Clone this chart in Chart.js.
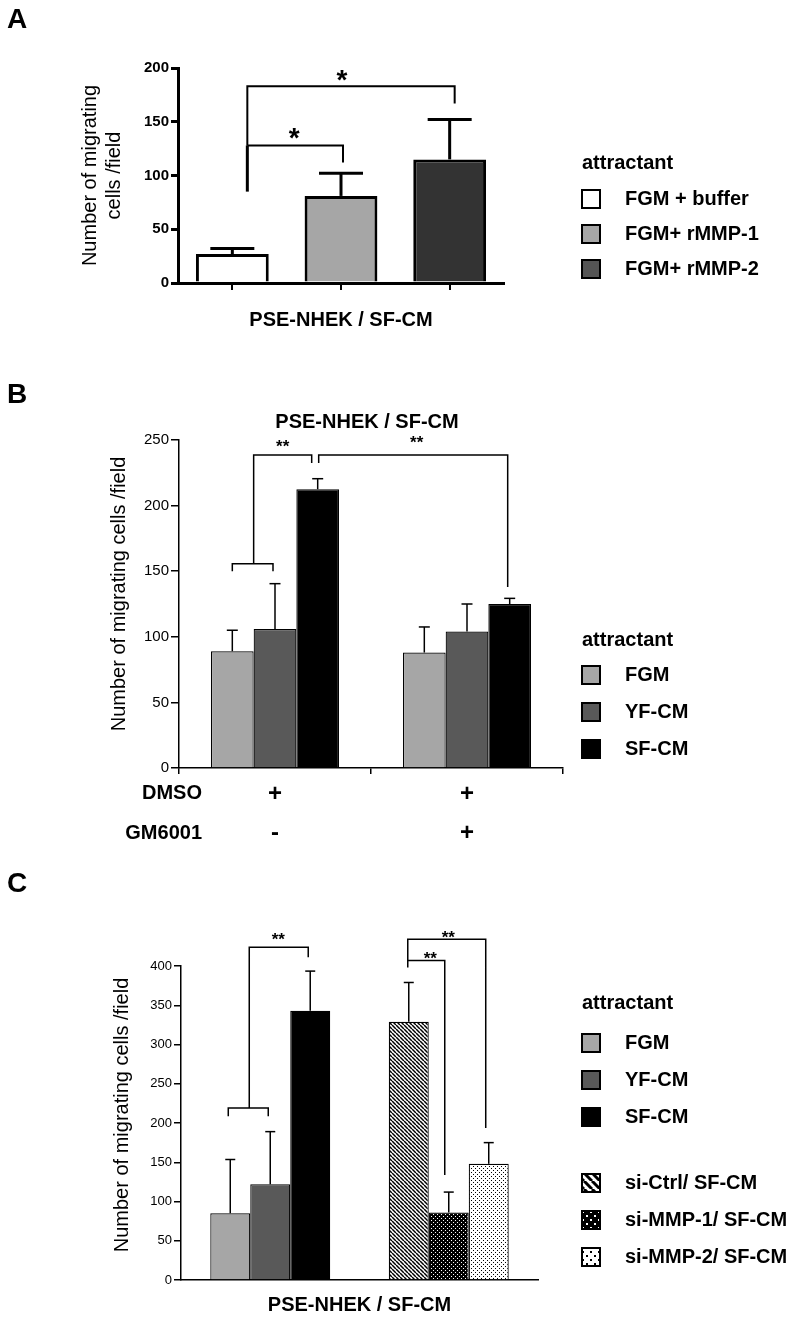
<!DOCTYPE html>
<html>
<head>
<meta charset="utf-8">
<script src="https://cdn.jsdelivr.net/npm/chart.js@4.4.0/dist/chart.umd.min.js"></script>
<style>
  html, body { margin: 0; padding: 0; background: #fff; }
  body { width: 797px; height: 1318px; position: relative; overflow: hidden; }
  canvas { position: absolute; left: 0; }
</style>
</head>
<body>
<canvas id="chartA" width="797" height="345" style="top:0px"></canvas>
<canvas id="chartB" width="797" height="500" style="top:345px"></canvas>
<canvas id="chartC" width="797" height="473" style="top:845px"></canvas>
<script>
const FONT = 'Arial, "Liberation Sans", sans-serif';

// panel A: recombinant MMPs as attractant
const seriesA = ['FGM + buffer', 'FGM+ rMMP-1', 'FGM+ rMMP-2'];
const meanA = [27, 81, 115];
const sdA = [5, 21, 37];
const colorsA = ['#ffffff', '#a6a6a6', '#333333'];

// panel B: MMP inhibitor GM6001
const groupsB = ['DMSO', 'DMSO + GM6001'];
const seriesB = ['FGM', 'YF-CM', 'SF-CM'];
const fgmB = [89, 88];
const yfB = [106, 104];
const sfB = [212.5, 125];
const fgmSdB = [16, 19.5];
const yfSdB = [34.5, 21];
const sfSdB = [8, 4.3];
const dmsoRow = ['+', '+'];
const gmRow = ['-', '+'];

// panel C: conditioned media and siRNA knockdown
const groupsC = ['conditioned medium', 'siRNA'];
const seriesC = ['FGM', 'YF-CM', 'SF-CM', 'si-Ctrl/ SF-CM', 'si-MMP-1/ SF-CM', 'si-MMP-2/ SF-CM'];
const meanC = [85, 122, 343, 329, 86, 148];
const sdC = [68.5, 67, 50.5, 50, 26, 27];

const GREY_LIGHT = '#a6a6a6', GREY_DARK = '#595959';

function makePattern(kind, s) {
  const n = 4 * s;
  const c = document.createElement('canvas');
  c.width = n; c.height = n;
  const g = c.getContext('2d');
  if (kind === 'hatch') {
    g.fillStyle = '#fff'; g.fillRect(0, 0, n, n);
    g.strokeStyle = '#000'; g.lineWidth = 1.5 * s;
    for (const o of [-n, 0, n]) {
      g.beginPath(); g.moveTo(o, 0); g.lineTo(o + n, n); g.stroke();
    }
  } else if (kind === 'dotsWhite') {
    g.fillStyle = '#000'; g.fillRect(0, 0, n, n);
    g.fillStyle = '#fff';
    g.fillRect(s, s, s, s); g.fillRect(3 * s, 3 * s, s, s);
  } else {
    g.fillStyle = '#fff'; g.fillRect(0, 0, n, n);
    g.fillStyle = '#000';
    g.fillRect(s, s, s, s); g.fillRect(3 * s, 3 * s, s, s);
  }
  return g.createPattern(c, 'repeat');
}

function text(ctx, str, x, y, size, bold, align) {
  ctx.save();
  ctx.font = (bold ? 'bold ' : '') + size + 'px ' + FONT;
  ctx.fillStyle = '#000';
  ctx.textAlign = align || 'center';
  ctx.textBaseline = 'middle';
  ctx.fillText(str, x, y);
  ctx.restore();
}

function stars(ctx, str, x, y, size) {
  // y is the visual centre of the asterisks
  ctx.save();
  ctx.font = 'bold ' + size + 'px ' + FONT;
  ctx.fillStyle = '#000';
  ctx.textAlign = 'center';
  ctx.textBaseline = 'alphabetic';
  ctx.fillText(str, x, y + size * 0.58);
  ctx.restore();
}

function path(ctx, pts, w) {
  ctx.save();
  ctx.strokeStyle = '#000';
  ctx.lineWidth = w;
  ctx.lineJoin = 'miter';
  ctx.beginPath();
  pts.forEach((p, i) => i ? ctx.lineTo(p[0], p[1]) : ctx.moveTo(p[0], p[1]));
  ctx.stroke();
  ctx.restore();
}

function errorBars(chart, sds, w, cap) {
  const ctx = chart.ctx, y = chart.scales.y;
  chart.data.datasets.forEach((ds, di) => {
    chart.getDatasetMeta(di).data.forEach((bar, i) => {
      const top = y.getPixelForValue(ds.data[i] + sds[di][i]);
      path(ctx, [[bar.x, bar.y], [bar.x, top]], w);
      path(ctx, [[bar.x - cap / 2, top], [bar.x + cap / 2, top]], w);
    });
  });
}

function legend(ctx, x, titleY, items, border) {
  text(ctx, 'attractant', x, titleY, 20, true, 'left');
  items.forEach(it => {
    ctx.save();
    ctx.fillStyle = it.fill;
    ctx.fillRect(x, it.y - 9, 18, 18);
    ctx.strokeStyle = '#000';
    ctx.lineWidth = border;
    ctx.strokeRect(x, it.y - 9, 18, 18);
    ctx.restore();
    text(ctx, it.label, x + 43, it.y, 20, true, 'left');
  });
}

function baseOptions(box, yMax, tickFont, axisW, tickLen, xGrid) {
  return {
    responsive: false,
    animation: false,
    events: [],
    layout: { padding: { top: box.top, right: box.right, left: 0, bottom: 0 } },
    plugins: { legend: { display: false }, tooltip: { enabled: false }, title: { display: false } },
    scales: {
      x: {
        border: { color: '#000', width: axisW },
        grid: xGrid,
        ticks: { display: false },
        afterFit: s => { s.height = box.xh; }
      },
      y: {
        min: 0, max: yMax,
        border: { color: '#000', width: axisW },
        grid: { drawOnChartArea: false, drawTicks: true, tickLength: tickLen, color: '#000', lineWidth: axisW },
        ticks: { stepSize: 50, color: '#000', font: tickFont, padding: 2 },
        afterFit: s => { s.width = box.left; }
      }
    }
  };
}

// ---------------- Panel A ----------------
const optsA = baseOptions({ top: 68, right: 293, xh: 62, left: 178 }, 200,
  { family: FONT, size: 15, weight: 'bold' }, 3, 7,
  { offset: false, drawOnChartArea: false, drawTicks: true, tickLength: 7, color: '#000', lineWidth: 2 });

new Chart(document.getElementById('chartA'), {
  type: 'bar',
  data: {
    labels: seriesA,
    datasets: [{
      data: meanA,
      backgroundColor: colorsA,
      borderColor: '#000',
      borderWidth: 3,
      barPercentage: 0.67,
      categoryPercentage: 1
    }]
  },
  options: optsA,
  plugins: [{
    id: 'annotA',
    afterDatasetsDraw(chart) {
      const ctx = chart.ctx, Y = v => chart.scales.y.getPixelForValue(v);
      errorBars(chart, [sdA], 3, 44);
      const bx = i => chart.getDatasetMeta(0).data[i].x;
      const xl = bx(0) + 15;
      path(ctx, [[xl, Y(85)], [xl, Y(128)]], 3);
      path(ctx, [[xl, Y(128)], [xl, Y(183)], [bx(2) + 5, Y(183)], [bx(2) + 5, Y(167)]], 2);
      path(ctx, [[xl, Y(128)], [bx(1) + 2, Y(128)], [bx(1) + 2, Y(112)]], 2);
      stars(ctx, '*', (xl + bx(1)) / 2, Y(128) - 15, 28);
      stars(ctx, '*', bx(1) + 1, Y(183) - 14, 28);
    },
    afterDraw(chart) {
      const ctx = chart.ctx, a = chart.chartArea;
      text(ctx, 'A', 7, 20, 28, true, 'left');
      ctx.save();
      ctx.translate(102, (a.top + a.bottom) / 2);
      ctx.rotate(-Math.PI / 2);
      text(ctx, 'Number of migrating', 0, -12, 20, false);
      text(ctx, 'cells /field', 0, 12, 20, false);
      ctx.restore();
      text(ctx, 'PSE-NHEK / SF-CM', (a.left + a.right) / 2, 320, 20, true);
      legend(ctx, 582, 163, seriesA.map((s, i) => ({ label: s, fill: i === 2 ? '#555555' : colorsA[i], y: 199 + 35 * i })), 2);
    }
  }]
});

// ---------------- Panel B ----------------
const optsB = baseOptions({ top: 95, right: 234, xh: 77, left: 179 }, 250,
  { family: FONT, size: 15 }, 1.5, 8,
  { offset: true, drawOnChartArea: false, drawTicks: true, tickLength: 6, color: '#000', lineWidth: 1.5 });

const barB = (label, data, color) => ({
  label, data, backgroundColor: color, borderColor: '#000', borderWidth: 1.2,
  barPercentage: 1, categoryPercentage: 0.667
});

new Chart(document.getElementById('chartB'), {
  type: 'bar',
  data: {
    labels: groupsB,
    datasets: [
      barB(seriesB[0], fgmB, GREY_LIGHT),
      barB(seriesB[1], yfB, GREY_DARK),
      barB(seriesB[2], sfB, '#000000')
    ]
  },
  options: optsB,
  plugins: [{
    id: 'annotB',
    afterDatasetsDraw(chart) {
      const ctx = chart.ctx, Y = v => chart.scales.y.getPixelForValue(v);
      errorBars(chart, [fgmSdB, yfSdB, sfSdB], 1.5, 11);
      const bx = (d, i) => chart.getDatasetMeta(d).data[i].x;
      const mid = (bx(0, 0) + bx(1, 0)) / 2;
      path(ctx, [[bx(0, 0), Y(150)], [bx(0, 0), Y(155.6)], [bx(1, 0) - 2, Y(155.6)], [bx(1, 0) - 2, Y(150)]], 1.5);
      path(ctx, [[mid, Y(155.6)], [mid, Y(238.6)], [bx(2, 0) - 6, Y(238.6)], [bx(2, 0) - 6, Y(232.5)]], 1.5);
      path(ctx, [[bx(2, 0) + 1, Y(232.5)], [bx(2, 0) + 1, Y(238.6)], [bx(2, 1) - 2, Y(238.6)], [bx(2, 1) - 2, Y(138)]], 1.5);
      stars(ctx, '**', (mid + bx(2, 0) - 6) / 2, Y(238.6) - 13, 17);
      stars(ctx, '**', (bx(2, 0) + bx(2, 1)) / 2 + 3, Y(238.6) - 17, 17);
    },
    afterDraw(chart) {
      const ctx = chart.ctx, a = chart.chartArea, x = chart.scales.x;
      text(ctx, 'B', 7, 50, 28, true, 'left');
      ctx.save();
      ctx.translate(119, 249);
      ctx.rotate(-Math.PI / 2);
      text(ctx, 'Number of migrating cells /field', 0, 0, 20, false);
      ctx.restore();
      text(ctx, 'PSE-NHEK / SF-CM', (a.left + a.right) / 2 - 4, 77, 20, true);
      text(ctx, 'DMSO', 202, 448, 20, true, 'right');
      text(ctx, 'GM6001', 202, 488, 20, true, 'right');
      dmsoRow.forEach((s, i) => text(ctx, s, x.getPixelForValue(i), 449, 24, true));
      gmRow.forEach((s, i) => text(ctx, s, x.getPixelForValue(i), 488, 24, true));
      legend(ctx, 582, 295, seriesB.map((s, i) => ({ label: s, fill: [GREY_LIGHT, GREY_DARK, '#000'][i], y: 330 + 37 * i })), 2);
    }
  }]
});

// ---------------- Panel C ----------------
const hatch = makePattern('hatch', 1), dotsW = makePattern('dotsWhite', 1), dotsB = makePattern('dotsBlack', 1);
const fillsC = [GREY_LIGHT, GREY_DARK, '#000000', hatch, dotsW, dotsB];
const legendFillsC = [GREY_LIGHT, GREY_DARK, '#000000', makePattern('hatch', 2), makePattern('dotsWhite', 2), makePattern('dotsBlack', 2)];

const optsC = baseOptions({ top: 121, right: 259, xh: 38, left: 181 }, 400,
  { family: FONT, size: 13 }, 1.5, 7,
  { offset: true, drawOnChartArea: false, drawTicks: false });

const sdSlotC = [0, 1, 2].map(k => [sdC[k], sdC[k + 3]]);

new Chart(document.getElementById('chartC'), {
  type: 'bar',
  data: {
    labels: groupsC,
    datasets: [0, 1, 2].map(k => ({
      label: seriesC[k] + ' / ' + seriesC[k + 3],
      data: [meanC[k], meanC[k + 3]],
      backgroundColor: [fillsC[k], fillsC[k + 3]],
      borderColor: '#000',
      borderWidth: 1.2,
      barPercentage: 1,
      categoryPercentage: 0.672
    }))
  },
  options: optsC,
  plugins: [{
    id: 'annotC',
    afterDatasetsDraw(chart) {
      const ctx = chart.ctx, Y = v => chart.scales.y.getPixelForValue(v);
      errorBars(chart, sdSlotC, 1.5, 10);
      const bx = (d, i) => chart.getDatasetMeta(d).data[i].x;
      const mid = (bx(0, 0) + bx(1, 0)) / 2;
      path(ctx, [[bx(0, 0) - 2, Y(208.6)], [bx(0, 0) - 2, Y(219)], [bx(1, 0) - 2, Y(219)], [bx(1, 0) - 2, Y(208.6)]], 1.5);
      path(ctx, [[mid - 1, Y(219)], [mid - 1, Y(424)], [bx(2, 0) - 2, Y(424)], [bx(2, 0) - 2, Y(411)]], 1.5);
      stars(ctx, '**', (mid + bx(2, 0)) / 2 - 2, Y(424) - 12, 17);
      const xl = bx(0, 1) - 1;
      path(ctx, [[xl, Y(398)], [xl, Y(434)], [bx(2, 1) - 3, Y(434)], [bx(2, 1) - 3, Y(193.5)]], 1.5);
      path(ctx, [[xl, Y(407)], [bx(1, 1) - 4, Y(407)], [bx(1, 1) - 4, Y(133.6)]], 1.5);
      stars(ctx, '**', (xl + bx(2, 1)) / 2, Y(434) - 6, 17);
      stars(ctx, '**', (xl + bx(1, 1)) / 2 + 2, Y(407) - 6, 17);
    },
    afterDraw(chart) {
      const ctx = chart.ctx, a = chart.chartArea;
      text(ctx, 'C', 7, 39, 28, true, 'left');
      ctx.save();
      ctx.translate(122, 270);
      ctx.rotate(-Math.PI / 2);
      text(ctx, 'Number of migrating cells /field', 0, 0, 20, false);
      ctx.restore();
      text(ctx, 'PSE-NHEK / SF-CM', (a.left + a.right) / 2, 460, 20, true);
      const ys = [198, 235, 272, 338, 375, 412];
      legend(ctx, 582, 158, seriesC.map((s, i) => ({ label: s, fill: legendFillsC[i], y: ys[i] })), 2);
    }
  }]
});
</script>
</body>
</html>
